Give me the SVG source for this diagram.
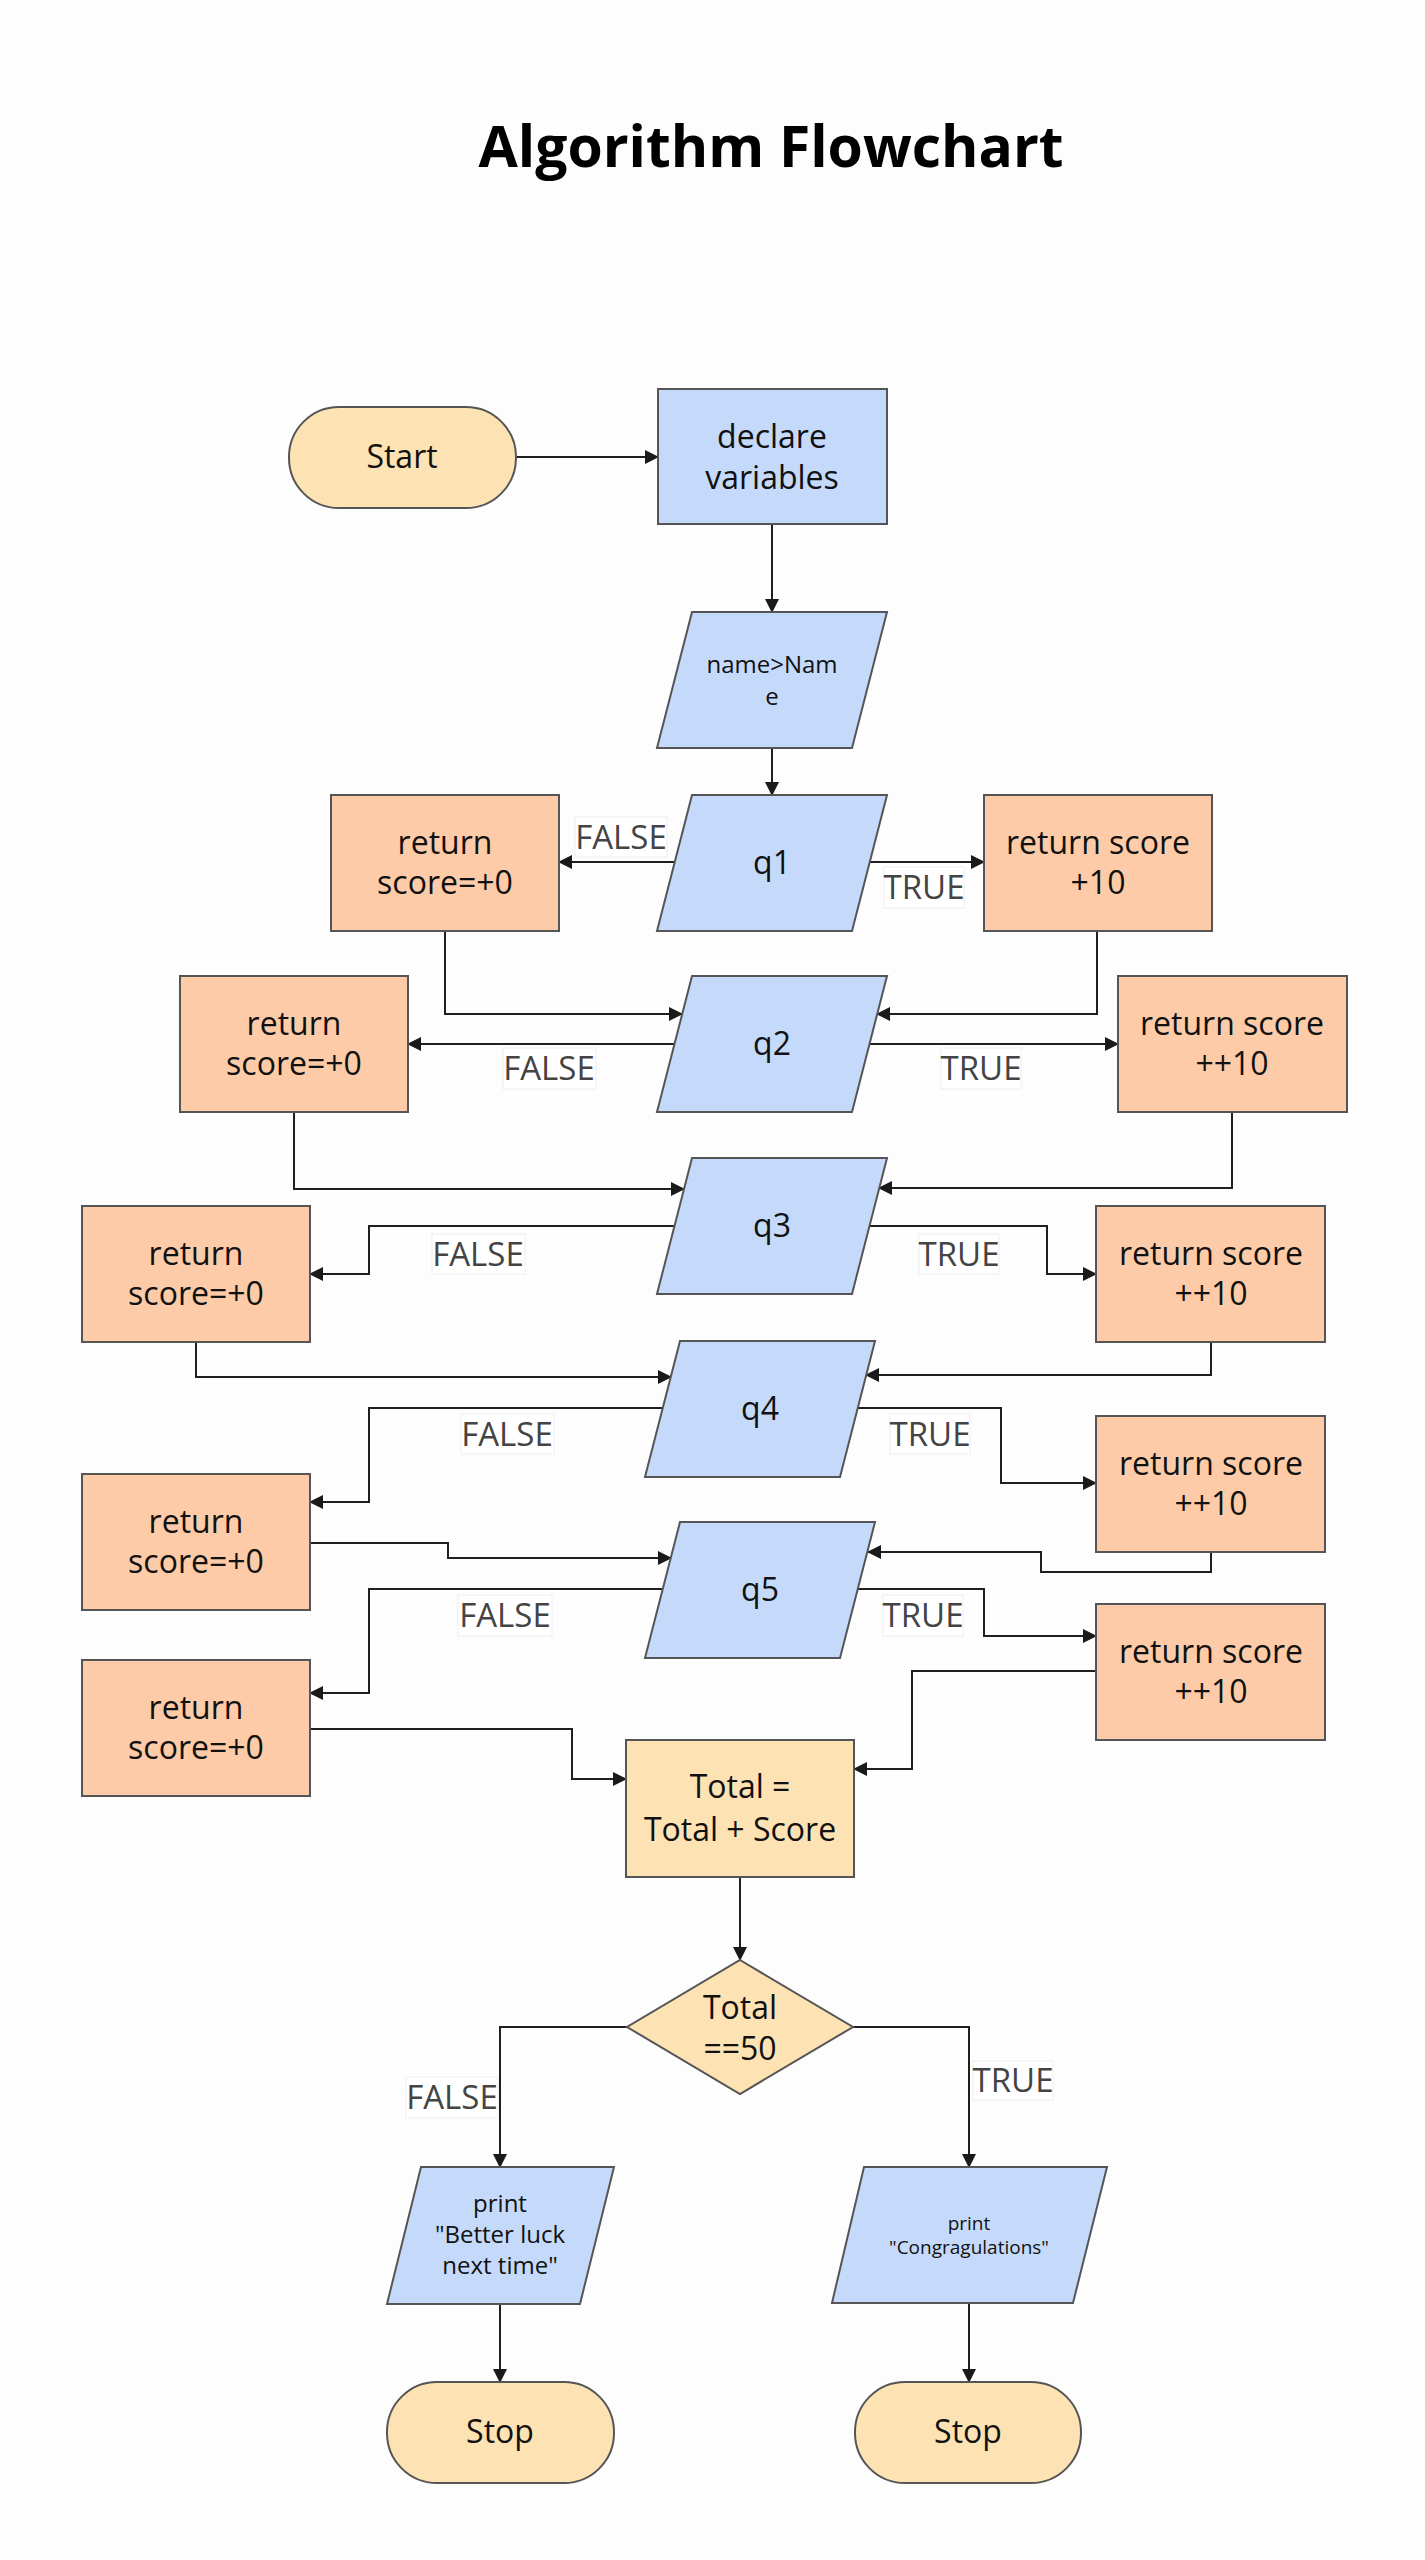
<svg xmlns="http://www.w3.org/2000/svg" width="1425" height="2560" viewBox="0 0 1425 2560">
<defs>
<marker id="ah" markerWidth="14" markerHeight="14" refX="13" refY="7" orient="auto" markerUnits="userSpaceOnUse">
<path d="M0,0 L14,7 L0,14 Z" fill="#1a1a1a"/>
</marker>
<style>
.t{font-family:"Open Sans","Noto Sans","Liberation Sans",sans-serif;fill:#111;text-anchor:middle}
.n{font-size:32px}
.s{font-size:24px}
.xs{font-size:19px}
.blue{fill:#C5DAFB;stroke:#555;stroke-width:2}
.sal{fill:#FDCBA7;stroke:#555;stroke-width:2}
.pea{fill:#FDE2B3;stroke:#555;stroke-width:2}
.c path{fill:none;stroke:#1f1f1f;stroke-width:2;marker-end:url(#ah)}
.lb rect{fill:#fff;stroke:#eee;stroke-width:1}
.lb text{font-family:"Open Sans","Noto Sans","Liberation Sans",sans-serif;font-size:33px;fill:#444;text-anchor:middle}
</style>
</defs>
<rect x="0" y="0" width="1425" height="2560" fill="#fdfdfd"/>
<text x="771" y="167" class="t" style="font-size:57px;font-weight:bold;fill:#000">Algorithm Flowchart</text>

<g class="c" id="connectors">
<path d="M516 457 H658"/>
<path d="M772 524 V612"/>
<path d="M772 748 V795"/>
<path d="M675 862 H559"/>
<path d="M869 862 H984"/>
<path d="M445 931 V1014 H682"/>
<path d="M1097 931 V1014 H877"/>
<path d="M675 1044 H408"/>
<path d="M869 1044 H1118"/>
<path d="M294 1112 V1189 H684"/>
<path d="M1232 1112 V1188 H879"/>
<path d="M675 1226 H369 V1274 H310"/>
<path d="M869 1226 H1047 V1274 H1096"/>
<path d="M196 1342 V1377 H671"/>
<path d="M1211 1342 V1375 H866"/>
<path d="M663 1408 H369 V1502 H310"/>
<path d="M857 1408 H1001 V1483 H1096"/>
<path d="M310 1543 H448 V1558 H671"/>
<path d="M1211 1552 V1572 H1041 V1552 H868"/>
<path d="M663 1589 H369 V1693 H310"/>
<path d="M857 1589 H984 V1636 H1096"/>
<path d="M310 1729 H572 V1779 H626"/>
<path d="M1096 1671 H912 V1769 H854"/>
<path d="M740 1877 V1960"/>
<path d="M627 2027 H500 V2167"/>
<path d="M853 2027 H969 V2167"/>
<path d="M500 2304 V2382"/>
<path d="M969 2303 V2382"/>
</g>

<g class="lb" id="labels">
<rect x="575" y="817" width="92" height="40"/><text x="621" y="849">FALSE</text>
<rect x="884" y="867" width="80" height="41"/><text x="924" y="899">TRUE</text>
<rect x="503" y="1048" width="93" height="41"/><text x="549" y="1080">FALSE</text>
<rect x="941" y="1048" width="80" height="41"/><text x="981" y="1080">TRUE</text>
<rect x="432" y="1234" width="93" height="40"/><text x="478" y="1266">FALSE</text>
<rect x="919" y="1234" width="80" height="40"/><text x="959" y="1266">TRUE</text>
<rect x="461" y="1414" width="93" height="40"/><text x="507" y="1446">FALSE</text>
<rect x="890" y="1414" width="80" height="40"/><text x="930" y="1446">TRUE</text>
<rect x="458" y="1595" width="94" height="41"/><text x="505" y="1627">FALSE</text>
<rect x="883" y="1595" width="80" height="41"/><text x="923" y="1627">TRUE</text>
<rect x="406" y="2077" width="92" height="41"/><text x="452" y="2109">FALSE</text>
<rect x="973" y="2061" width="80" height="39"/><text x="1013" y="2092">TRUE</text>
</g>

<g id="start"><rect class="pea" x="289" y="407" width="227" height="101" rx="50"/><text class="t n" x="402" y="468">Start</text></g>
<g id="declare"><rect class="blue" x="658" y="389" width="229" height="135"/><text class="t n" x="772" y="448">declare</text><text class="t n" x="772" y="489">variables</text></g>
<g id="name"><polygon class="blue" points="692,612 887,612 852,748 657,748"/><text class="t s" x="772" y="673">name&gt;Nam</text><text class="t s" x="772" y="705">e</text></g>

<g id="q1"><polygon class="blue" points="692,795 887,795 852,931 657,931"/><text class="t n" x="772" y="874">q1</text></g>
<g id="q2"><polygon class="blue" points="692,976 887,976 852,1112 657,1112"/><text class="t n" x="772" y="1055">q2</text></g>
<g id="q3"><polygon class="blue" points="692,1158 887,1158 852,1294 657,1294"/><text class="t n" x="772" y="1237">q3</text></g>
<g id="q4"><polygon class="blue" points="680,1341 875,1341 840,1477 645,1477"/><text class="t n" x="760" y="1420">q4</text></g>
<g id="q5"><polygon class="blue" points="680,1522 875,1522 840,1658 645,1658"/><text class="t n" x="760" y="1601">q5</text></g>

<g id="l1"><rect class="sal" x="331" y="795" width="228" height="136"/><text class="t n" x="445" y="854">return</text><text class="t n" x="445" y="894">score=+0</text></g>
<g id="r1"><rect class="sal" x="984" y="795" width="228" height="136"/><text class="t n" x="1098" y="854">return score</text><text class="t n" x="1098" y="894">+10</text></g>
<g id="l2"><rect class="sal" x="180" y="976" width="228" height="136"/><text class="t n" x="294" y="1035">return</text><text class="t n" x="294" y="1075">score=+0</text></g>
<g id="r2"><rect class="sal" x="1118" y="976" width="229" height="136"/><text class="t n" x="1232" y="1035">return score</text><text class="t n" x="1232" y="1075">++10</text></g>
<g id="l3"><rect class="sal" x="82" y="1206" width="228" height="136"/><text class="t n" x="196" y="1265">return</text><text class="t n" x="196" y="1305">score=+0</text></g>
<g id="r3"><rect class="sal" x="1096" y="1206" width="229" height="136"/><text class="t n" x="1211" y="1265">return score</text><text class="t n" x="1211" y="1305">++10</text></g>
<g id="l4"><rect class="sal" x="82" y="1474" width="228" height="136"/><text class="t n" x="196" y="1533">return</text><text class="t n" x="196" y="1573">score=+0</text></g>
<g id="r4"><rect class="sal" x="1096" y="1416" width="229" height="136"/><text class="t n" x="1211" y="1475">return score</text><text class="t n" x="1211" y="1515">++10</text></g>
<g id="l5"><rect class="sal" x="82" y="1660" width="228" height="136"/><text class="t n" x="196" y="1719">return</text><text class="t n" x="196" y="1759">score=+0</text></g>
<g id="r5"><rect class="sal" x="1096" y="1604" width="229" height="136"/><text class="t n" x="1211" y="1663">return score</text><text class="t n" x="1211" y="1703">++10</text></g>

<g id="total"><rect class="pea" x="626" y="1740" width="228" height="137"/><text class="t n" x="740" y="1798">Total =</text><text class="t n" x="740" y="1841">Total + Score</text></g>
<g id="check"><polygon class="pea" points="740,1960 853,2027 740,2094 627,2027"/><text class="t n" x="740" y="2019">Total</text><text class="t n" x="740" y="2060">==50</text></g>

<g id="print1"><polygon class="blue" points="421,2167 614,2167 580,2304 387,2304"/><text class="t s" x="500" y="2212">print</text><text class="t s" x="500" y="2243">"Better luck</text><text class="t s" x="500" y="2274">next time"</text></g>
<g id="print2"><polygon class="blue" points="864,2167 1107,2167 1073,2303 832,2303"/><text class="t xs" x="969" y="2230">print</text><text class="t xs" x="969" y="2254">"Congragulations"</text></g>

<g id="stop1"><rect class="pea" x="387" y="2382" width="227" height="101" rx="50"/><text class="t n" x="500" y="2443">Stop</text></g>
<g id="stop2"><rect class="pea" x="855" y="2382" width="226" height="101" rx="50"/><text class="t n" x="968" y="2443">Stop</text></g>
</svg>
